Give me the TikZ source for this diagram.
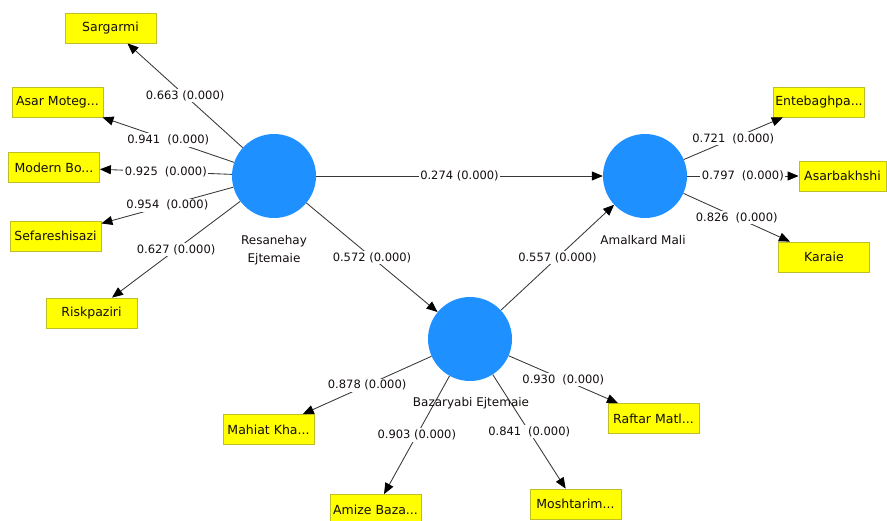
\documentclass[tikz,border=0pt]{standalone}
\usepackage{fontspec}
\setmainfont{DejaVu Sans}
\usetikzlibrary{arrows.meta}

\definecolor{latentblue}{RGB}{30,144,255}
\definecolor{itemyellow}{RGB}{255,255,0}
\definecolor{itemborder}{RGB}{190,190,40}
\definecolor{pathgray}{RGB}{55,55,55}
\definecolor{inktext}{RGB}{20,14,14}
% wider gap between a loading and its p-value
\newcommand{\wgap}{\hspace{7pt}}

\begin{document}
\begin{tikzpicture}[x=1pt,y=-1pt,
  latent/.style={circle, fill=latentblue, minimum size=84pt, inner sep=0pt},
  indicator/.style={rectangle, fill=itemyellow, draw=itemborder, line width=0.8pt,
    minimum width=91pt, minimum height=30pt, inner sep=0pt,
    font=\fontsize{12.5}{14}\selectfont, text=inktext},
  latentname/.style={font=\fontsize{12}{18}\selectfont, text=inktext, align=center},
  link/.style={draw=pathgray, line width=0.85pt,
    -{Triangle[length=11pt,width=9pt,color=black]}},
  coef/.style={fill=white, inner sep=1.5pt, font=\fontsize{11.5}{13}\selectfont, text=inktext},
]
\useasboundingbox (0,0) rectangle (887,520);
\fill[white] (0,0) rectangle (887,520);

% latent variables
\node[latent] (res) at (274,176) {};
\node[latent] (ama) at (645,176) {};
\node[latent] (baz) at (470,339) {};

% indicators
\node[indicator] (sar) at (110.5,28)  {Sargarmi};
\node[indicator] (asm) at (57.5,102)  {Asar Moteg...};
\node[indicator] (mod) at (54,167.5)  {Modern Bo...};
\node[indicator] (sef) at (55.5,236)  {Sefareshisazi};
\node[indicator] (ris) at (91.5,313)  {Riskpaziri};
\node[indicator] (ent) at (819,102)   {Entebaghpa...};
\node[indicator, minimum width=87pt] (asb) at (842.5,176) {Asarbakhshi};
\node[indicator] (kar) at (824,257)   {Karaie};
\node[indicator] (mah) at (268.5,429.5) {Mahiat Kha...};
\node[indicator] (ami) at (375.5,509.5) {Amize Baza...};
\node[indicator] (mos) at (575.5,504) {Moshtarim...};
\node[indicator] (raf) at (653.5,418.5) {Raftar Matl...};

% outer loadings of Resanehay Ejtemaie
\draw[link] (res) -- node[coef] {0.663 (0.000)} (sar);
\draw[link] (res) -- node[coef] {0.941\wgap(0.000)} (asm);
\draw[link] (res) -- node[coef] {0.925\wgap(0.000)} (mod);
\draw[link] (res) -- node[coef] {0.954\wgap(0.000)} (sef);
\draw[link] (res) -- node[coef] {0.627 (0.000)} (ris);

% structural paths
\draw[link] (res) -- node[coef] {0.274 (0.000)} (ama);
\draw[link] (res) -- node[coef] {0.572 (0.000)} (baz);
\draw[link] (baz) -- node[coef] {0.557 (0.000)} (ama);

% outer loadings of Amalkard Mali
\draw[link] (ama) -- node[coef] {0.721\wgap(0.000)} (ent);
\draw[link] (ama) -- node[coef] {0.797\wgap(0.000)} (asb);
\draw[link] (ama) -- node[coef] {0.826\wgap(0.000)} (kar);

% outer loadings of Bazaryabi Ejtemaie
\draw[link] (baz) -- node[coef] {0.878 (0.000)} (mah);
\draw[link] (baz) -- node[coef] {0.903 (0.000)} (ami);
\draw[link] (baz) -- node[coef] {0.841\wgap(0.000)} (mos);
\draw[link] (baz) -- node[coef] {0.930\wgap(0.000)} (raf);

% names of the latent variables
\node[latentname] (resl) at (274,250) {Resanehay\\Ejtemaie};
\node[latentname] (amal) at (643,240) {Amalkard Mali};
\node[latentname] (bazl) at (471,403) {Bazaryabi Ejtemaie};
\end{tikzpicture}
\end{document}
